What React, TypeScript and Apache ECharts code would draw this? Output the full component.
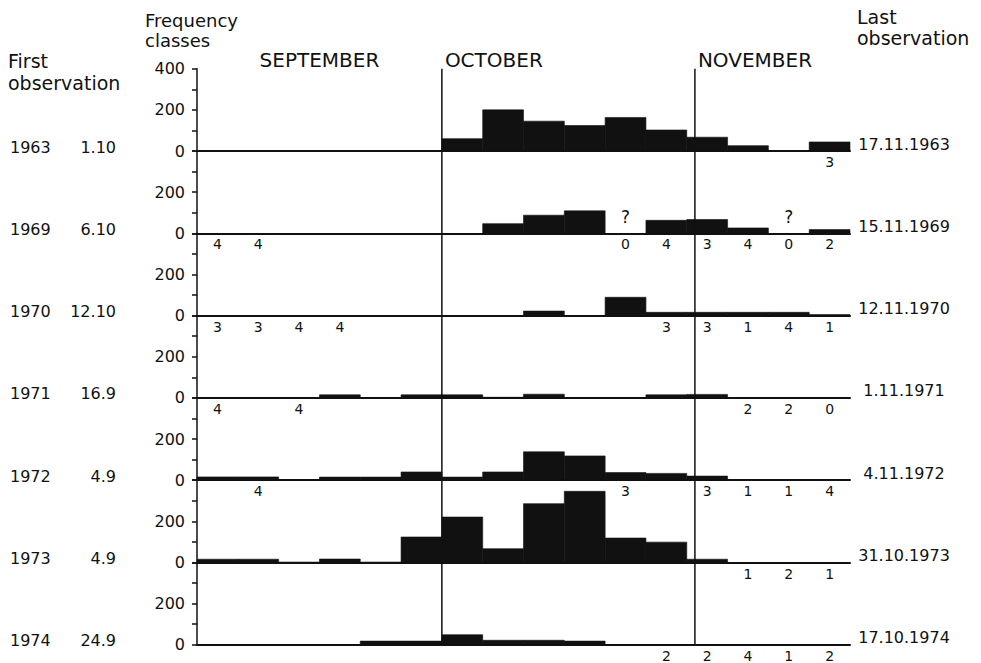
import React, { useEffect, useRef } from 'react';
import * as echarts from 'echarts';

// ---------- data ----------
const years = ['1963', '1969', '1970', '1971', '1972', '1973', '1974'];
const firstObservation = ['1.10', '6.10', '12.10', '16.9', '4.9', '4.9', '24.9'];
const lastObservation = ['17.11.1963', '15.11.1969', '12.11.1970', '1.11.1971', '4.11.1972', '31.10.1973', '17.10.1974'];
const months = ['SEPTEMBER', 'OCTOBER', 'NOVEMBER'];
const monthStartDay = [0, 30, 61];
const binDays = 5;
const totalDays = 80; // 1 Sept .. 19 Nov, 16 five-day periods

// counts per five-day period (1-5 Sept ... 15-19 Nov)
const counts1963 = [0, 0, 0, 0, 0, 0, 60, 200, 145, 124, 163, 102, 67, 26, 0, 44];
const counts1969 = [0, 0, 0, 0, 0, 0, 0, 47, 88, 109, 0, 63, 67, 26, 0, 18];
const counts1970 = [0, 0, 0, 0, 0, 0, 0, 0, 22, 0, 89, 16, 16, 16, 16, 5];
const counts1971 = [0, 0, 0, 15, 2, 15, 15, 3, 18, 2, 2, 15, 17, 0, 0, 0];
const counts1972 = [16, 16, 2, 15, 15, 40, 15, 40, 138, 118, 37, 33, 20, 0, 0, 0];
const counts1973 = [16, 16, 2, 17, 2, 124, 221, 67, 286, 346, 119, 99, 16, 0, 0, 0];
const counts1974 = [0, 0, 0, 0, 18, 18, 49, 22, 22, 18, 0, 0, 0, 0, 0, 0];
const allCounts = [counts1963, counts1969, counts1970, counts1971, counts1972, counts1973, counts1974];

// class numbers written under the periods
const classes1963 = ['', '', '', '', '', '', '', '', '', '', '', '', '', '', '', '3'];
const classes1969 = ['4', '4', '', '', '', '', '', '', '', '', '0', '4', '3', '4', '0', '2'];
const classes1970 = ['3', '3', '4', '4', '', '', '', '', '', '', '', '3', '3', '1', '4', '1'];
const classes1971 = ['4', '', '4', '', '', '', '', '', '', '', '', '', '', '2', '2', '0'];
const classes1972 = ['', '4', '', '', '', '', '', '', '', '', '3', '', '3', '1', '1', '4'];
const classes1973 = ['', '', '', '', '', '', '', '', '', '', '', '', '', '1', '2', '1'];
const classes1974 = ['', '', '', '', '', '', '', '', '', '', '', '2', '2', '4', '1', '2'];
const allClasses = [classes1963, classes1969, classes1970, classes1971, classes1972, classes1973, classes1974];

// periods marked "?" (unknown)
const unknown1969 = [10, 14];
const allUnknown = [[], unknown1969, [], [], [], [], []];

const yMax = 400;
const yInterval = 100;

// ---------- layout ----------
const LEFT = 197;
const WIDTH = 653;
const TOP = 68.7;
const PANEL_H = 82.3;
const FONT = '"DejaVu Sans", "Liberation Sans", sans-serif';
const INK = '#111';

function textStyle(text: string, size: number, align: string, vAlign: string) {
  return {
    text,
    font: `${size}px ${FONT}`,
    fontSize: size,
    fontFamily: FONT,
    fill: INK,
    align,
    verticalAlign: vAlign,
    textAlign: align,
    textVerticalAlign: vAlign,
  };
}

export default function App() {
  const ref = useRef<HTMLDivElement>(null);

  useEffect(() => {
    if (!ref.current) return;
    const chart = echarts.init(ref.current, undefined, { renderer: 'svg' });
    const n = years.length;

    const grids: any[] = years.map((_, i) => ({
      left: LEFT,
      width: WIDTH,
      top: TOP + i * PANEL_H,
      height: PANEL_H,
      outerBoundsMode: 'none',
      containLabel: false,
    }));
    grids.push({ left: LEFT, width: WIDTH, top: TOP, height: PANEL_H * n, outerBoundsMode: 'none', containLabel: false });

    const xAxes: any[] = years.map((_, i) => ({
      type: 'value',
      gridIndex: i,
      min: 0,
      max: totalDays,
      axisLine: { show: true, onZero: false, lineStyle: { color: INK, width: 2 } },
      axisTick: { show: false },
      axisLabel: { show: false },
      splitLine: { show: false },
    }));
    xAxes.push({ type: 'value', gridIndex: n, min: 0, max: totalDays, show: false });

    const yAxes: any[] = years.map((_, i) => ({
      type: 'value',
      gridIndex: i,
      min: 0,
      max: yMax,
      interval: yInterval,
      axisLine: { show: true, lineStyle: { color: INK, width: 1.5 } },
      axisTick: { show: true, length: 5, lineStyle: { color: INK, width: 1.5 } },
      axisLabel: {
        color: INK,
        fontSize: 16,
        fontFamily: FONT,
        margin: 12,
        formatter: (v: number) => (v === 0 || v === 200 || (i === 0 && v === yMax) ? String(v) : ''),
      },
      splitLine: { show: false },
    }));
    yAxes.push({ type: 'value', gridIndex: n, min: 0, max: 1, show: false });

    const series: any[] = [];
    years.forEach((_, i) => {
      const counts = allCounts[i];
      series.push({
        type: 'custom',
        xAxisIndex: i,
        yAxisIndex: i,
        silent: true,
        z: 3,
        clip: false,
        data: counts.map((v, b) => [b * binDays, (b + 1) * binDays, v]),
        encode: { x: [0, 1], y: 2 },
        renderItem: (_p: any, api: any) => {
          const p0 = api.coord([api.value(0), 0]);
          const p1 = api.coord([api.value(1), api.value(2)]);
          return {
            type: 'rect',
            shape: { x: p0[0], y: p1[1], width: p1[0] - p0[0], height: p0[1] - p1[1] },
            style: { fill: INK, stroke: api.value(2) > 0 ? INK : 'none', lineWidth: 0.6 },
          };
        },
      });

      const items: { b: number; t: string; up: boolean }[] = [];
      allClasses[i].forEach((t, b) => {
        if (t !== '') items.push({ b, t, up: false });
      });
      allUnknown[i].forEach((b) => items.push({ b, t: '?', up: true }));
      series.push({
        type: 'custom',
        xAxisIndex: i,
        yAxisIndex: i,
        silent: true,
        z: 5,
        clip: false,
        data: items.map((it) => [it.b * binDays + binDays / 2, 0]),
        encode: { x: 0, y: 1 },
        renderItem: (params: any, api: any) => {
          const it = items[params.dataIndex];
          const p = api.coord([api.value(0), 0]);
          return {
            type: 'text',
            x: p[0],
            y: p[1] + (it.up ? -16 : 11),
            style: textStyle(it.t, it.up ? 17 : 14, 'center', 'middle'),
          };
        },
      });
    });

    // month boundary lines
    monthStartDay.slice(1).forEach((d) => {
      series.push({
        type: 'line',
        xAxisIndex: n,
        yAxisIndex: n,
        silent: true,
        z: 6,
        showSymbol: false,
        symbol: 'none',
        lineStyle: { color: INK, width: 1.5 },
        data: [
          [d, 0],
          [d, 1],
        ],
      });
    });

    // month titles
    series.push({
      type: 'custom',
      xAxisIndex: n,
      yAxisIndex: n,
      silent: true,
      clip: false,
      z: 6,
      data: monthStartDay.map((d, k) => [d, k]),
      encode: { x: 0, y: 1 },
      renderItem: (params: any, api: any) => {
        const k = params.dataIndex;
        const start = monthStartDay[k];
        const end = k + 1 < monthStartDay.length ? monthStartDay[k + 1] : totalDays;
        const first = k === 0;
        const p = api.coord([first ? (start + end) / 2 : start, 1]);
        return {
          type: 'text',
          x: p[0] + (first ? 0 : 3),
          y: p[1] - 9,
          style: textStyle(months[k], 20, first ? 'center' : 'left', 'middle'),
        };
      },
    });

    const graphic: any[] = [
      { type: 'text', x: 145, y: 20, style: textStyle('Frequency', 18, 'left', 'middle') },
      { type: 'text', x: 145, y: 40, style: textStyle('classes', 18, 'left', 'middle') },
      { type: 'text', x: 8, y: 61, style: textStyle('First', 19, 'left', 'middle') },
      { type: 'text', x: 8, y: 83, style: textStyle('observation', 19, 'left', 'middle') },
      { type: 'text', x: 857, y: 17, style: textStyle('Last', 19, 'left', 'middle') },
      { type: 'text', x: 857, y: 38, style: textStyle('observation', 19, 'left', 'middle') },
    ];
    years.forEach((y, i) => {
      const base = TOP + (i + 1) * PANEL_H;
      graphic.push({ type: 'text', x: 10, y: base - 4, style: textStyle(y, 16, 'left', 'middle') });
      graphic.push({ type: 'text', x: 116, y: base - 4, style: textStyle(firstObservation[i], 16, 'right', 'middle') });
      graphic.push({ type: 'text', x: 904, y: base - 7, style: textStyle(lastObservation[i], 16, 'center', 'middle') });
    });

    chart.setOption({
      animation: false,
      backgroundColor: '#fff',
      textStyle: { fontFamily: FONT, color: INK },
      grid: grids,
      xAxis: xAxes,
      yAxis: yAxes,
      series,
      graphic,
    });

    return () => chart.dispose();
  }, []);

  return (
    <div
      ref={ref}
      style={{ position: 'fixed', left: 0, top: 0, width: 981, height: 663, background: '#fff' }}
    />
  );
}
